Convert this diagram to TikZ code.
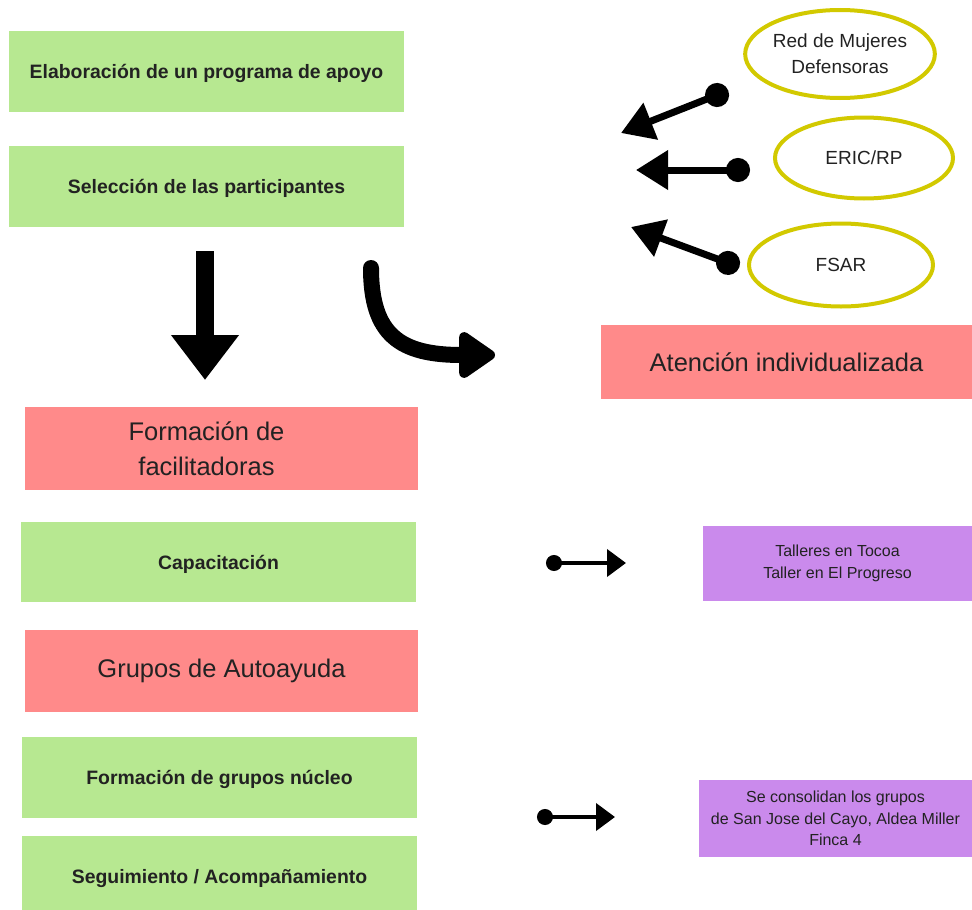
\documentclass[tikz,border=0pt]{standalone}
\usepackage{fontspec}
\setmainfont{Liberation Sans}
\usetikzlibrary{shapes.geometric,arrows.meta}
\definecolor{verde}{HTML}{B7E891}
\definecolor{rojo}{HTML}{FF8A8A}
\definecolor{lila}{HTML}{CA8AEC}
\definecolor{amarillo}{HTML}{D2C900}
\definecolor{texto}{HTML}{222222}

\begin{document}
\begin{tikzpicture}[x=1pt,y=-1pt,
    caja/.style={inner sep=0pt,align=center,text=texto,minimum height=81pt},
    verdecaja/.style={caja,fill=verde,minimum width=395pt,text depth=0pt,font=\bfseries\fontsize{19.4}{23}\selectfont},
    rojacaja/.style={caja,fill=rojo,minimum width=393pt,font=\fontsize{25.5}{35}\selectfont},
    lilacaja/.style={caja,fill=lila,font=\fontsize{16}{21.5}\selectfont},
    elipse/.style={ellipse,draw=amarillo,line width=4pt,inner sep=0pt,align=center,text=texto,font=\fontsize{19}{26}\selectfont},
    flecha/.style={line width=7pt,{Circle[length=24pt,width=24pt]}-{Triangle[length=32pt,width=38pt]}},
    flechita/.style={line width=4pt,{Circle[length=16pt,width=16pt]}-{Triangle[length=19pt,width=27pt]}}]
    \useasboundingbox (0,0) rectangle (972,910);
    % columna izquierda
    \node[verdecaja] (programa) at (206.5,71.5) {Elaboración de un programa de apoyo};
    \node[verdecaja] (seleccion) at (206.5,186.5) {Selección de las participantes};
    \node[rojacaja,minimum height=83pt] (facil) at (221.5,448.5) {Formación de\hspace*{30pt}\\facilitadoras\hspace*{30pt}};
    \node[verdecaja,minimum height=80pt] (capac) at (218.5,562) {Capacitación};
    \node[rojacaja,minimum height=82pt] (grupos) at (221.5,671) {Grupos de Autoayuda};
    \node[verdecaja] (nucleo) at (219.5,777.5) {Formación de grupos núcleo};
    \node[verdecaja] (segui) at (219.5,876.5) {Seguimiento / Acompañamiento};
    % columna derecha
    \node[elipse,minimum width=184pt,minimum height=88pt] (red) at (840,54) {Red de Mujeres\\Defensoras};
    \node[elipse,minimum width=178pt,minimum height=81pt] (eric) at (864,158) {ERIC/RP};
    \node[elipse,minimum width=184pt,minimum height=83pt] (fsar) at (841,265) {FSAR};
    \node[caja,fill=rojo,minimum width=371pt,minimum height=74pt,font=\fontsize{25.5}{35}\selectfont] (atencion) at (786.5,362) {Atención individualizada};
    \node[lilacaja,minimum width=269pt,minimum height=75pt] (talleres) at (837.5,563.5) {Talleres en Tocoa\\Taller en El Progreso};
    \node[lilacaja,minimum width=273pt,minimum height=77pt] (consol) at (835.5,818.5) {Se consolidan los grupos\\de San Jose del Cayo, Aldea Miller\\Finca 4};
    % flechas
    \coordinate (a1) at (728.2,90.6); \coordinate (b1) at (621,133);
    \coordinate (a2) at (750,170);    \coordinate (b2) at (636,170);
    \coordinate (a3) at (739.3,267.1); \coordinate (b3) at (631,227);
    \draw[flecha] (a1) -- (b1);
    \draw[flecha] (a2) -- (b2);
    \draw[flecha] (a3) -- (b3);
    \coordinate (abajo1) at (205,251); \coordinate (abajo2) at (205,380);
    \draw[line width=18pt,-{Triangle[length=45pt,width=65pt]}] (abajo1) -- (abajo2);
    \coordinate (curva1) at (371,268); \coordinate (curva2) at (495,355);
    \draw[line width=16pt,line cap=round,-{Triangle[length=40pt,width=52pt,round]}] (curva1) .. controls (371,335) and (400,355) .. (curva2);
    \coordinate (c1) at (546,563); \coordinate (d1) at (626,563);
    \coordinate (c2) at (537,817); \coordinate (d2) at (615,817);
    \draw[flechita] (c1) -- (d1);
    \draw[flechita] (c2) -- (d2);
\end{tikzpicture}
\end{document}
